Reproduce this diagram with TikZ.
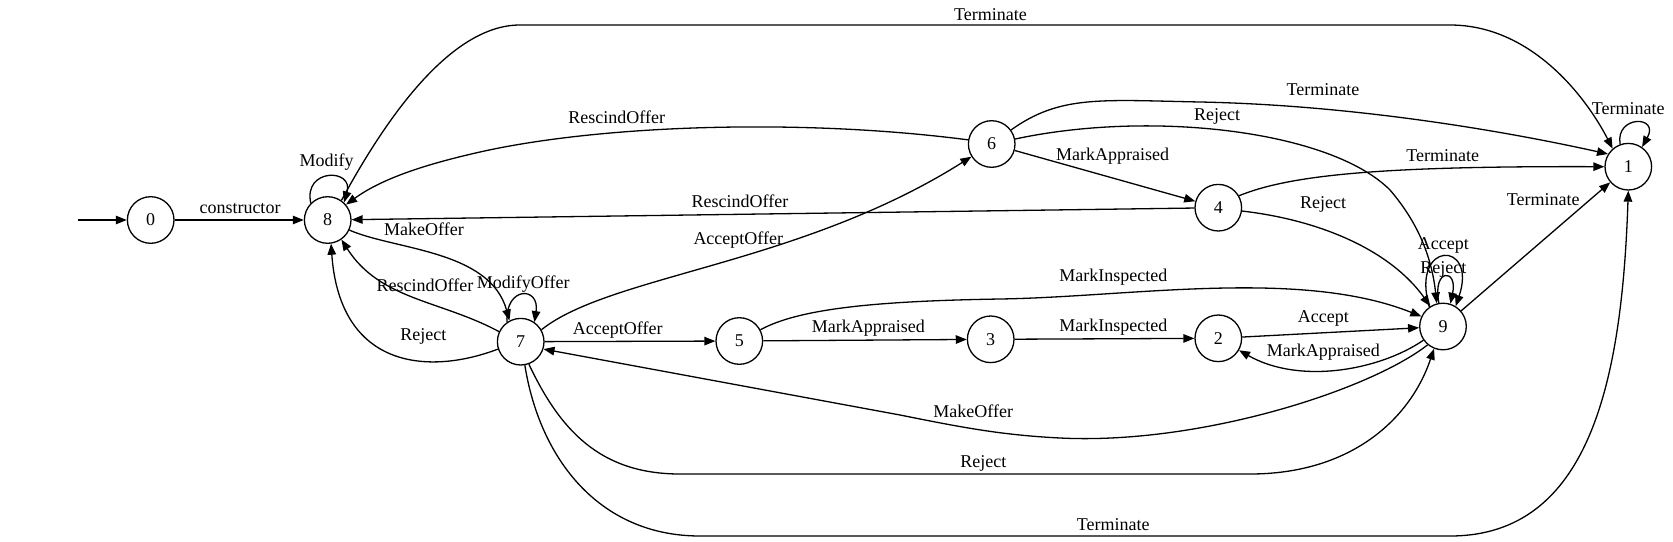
\documentclass[tikz,border=0pt]{standalone}
\usepackage{fontspec}
\setmainfont{Liberation Serif}
\usetikzlibrary{arrows.meta}
\begin{document}
\begin{tikzpicture}[x=1pt,y=-1pt,
  state/.style={circle,draw,line width=1.3pt,minimum size=46.6pt,inner sep=0pt,font=\fontsize{18}{20}\selectfont},
  edge/.style={line width=1.3pt,-{Triangle[length=11pt,width=8.5pt]}},
  lbl/.style={font=\fontsize{18}{20}\selectfont,inner sep=0pt}]
\useasboundingbox (0,0) rectangle (1673,541);
% states
\node[state] (n0) at (150.7,220) {0};
\node[state] (n8) at (327.7,220) {8};
\node[state] (n7) at (520.7,341.7) {7};
\node[state] (n5) at (739.3,341) {5};
\node[state] (n3) at (990.7,339.3) {3};
\node[state] (n2) at (1218.3,338.3) {2};
\node[state] (n9) at (1443,326.5) {9};
\node[state] (n6) at (991.7,144) {6};
\node[state] (n4) at (1218.3,207.7) {4};
\node[state] (n1) at (1628.3,166.7) {1};
\coordinate (start) at (78,220);
% edges
\draw[edge] (start) -- (n0);
\draw[edge] (n0) -- (n8);
\draw[edge] (n8.135) .. controls (303,168) and (354,168) .. (n8.47);
\draw[edge] (n8.-25) .. controls (395,250) and (490,250) .. (n7.118);
\draw[edge] (n7.125) .. controls (505,286) and (540,286) .. (n7.55);
\draw[edge] (n7.155) .. controls (440,300) and (380,300) .. (n8.-55);
\draw[edge] (n7.198) .. controls (430,375) and (340,370) .. (n8.-82);
\draw[edge] (n7) -- (n5);
\draw[edge] (n7.30) .. controls (610,275) and (800,265) .. (n6.212);
\draw[edge] (n7.-70) .. controls (560,430) and (600,474) .. (680,474) -- (1250,474) .. controls (1350,474) and (1410,420) .. (n9.-112);
\draw[edge] (n7.-80) .. controls (540,460) and (600,536) .. (700,536) -- (1450,536) .. controls (1590,536) and (1622,380) .. (n1.-90);
\draw[edge] (n9.230) .. controls (1370,390) and (1200,445) .. (1060,438) .. controls (1000,435) and (960,427) .. (900,415) -- (n7.-18);
\draw[edge] (n6.170) .. controls (800,118) and (600,125) .. (480,152) .. controls (420,165.5) and (380,180) .. (n8.40);
\draw[edge] (n6.36) .. controls (1060,95) and (1100,100) .. (1200,102) .. controls (1350,105) and (1500,130) .. (n1.148);
\draw[edge] (n6.12) .. controls (1150,110) and (1330,130) .. (1390,190) .. controls (1420,225) and (1432,260) .. (n9.105);
\draw[edge] (n6) -- (n4);
\draw[edge] (n4) -- (n8);
\draw[edge] (n4.30) .. controls (1290,175) and (1380,166) .. (n1.180);
\draw[edge] (n4.-8) .. controls (1320,220) and (1390,250) .. (n9.122);
\draw[edge] (n5) -- (n3);
\draw[edge] (n5.28) .. controls (800,308) and (880,301) .. (1000,299) .. controls (1130,297) and (1300,268) .. (n9.155);
\draw[edge] (n3) -- (n2);
\draw[edge] (n2) -- (n9);
\draw[edge] (n9.215) .. controls (1380,370) and (1300,385) .. (n2.-30);
\draw[edge] (n9.125) .. controls (1410,240) and (1478,240) .. (n9.58);
\draw[edge] (n9.100) .. controls (1432,268) and (1458,268) .. (n9.72);
\draw[edge] (n9) -- (n1);
\draw[edge] (n1.110) .. controls (1615,115) and (1660,115) .. (n1.55);
\draw[edge] (n8.55) .. controls (385,120) and (450,25) .. (520,25) -- (1450,25) .. controls (1530,25) and (1585,95) .. (n1.131);
% labels
\node[lbl] (l1) at (240,209) {constructor};
\node[lbl] (l2) at (326.7,161.7) {Modify};
\node[lbl] (l3) at (424,229.3) {MakeOffer};
\node[lbl] (l4) at (523.3,284.5) {ModifyOffer};
\node[lbl] (l5) at (425,285) {RescindOffer};
\node[lbl] (l6) at (423.3,336.7) {Reject};
\node[lbl] (l7) at (617.7,330) {AcceptOffer};
\node[lbl] (l8) at (738.3,240) {AcceptOffer};
\node[lbl] (l9) at (983.3,463.3) {Reject};
\node[lbl] (l10) at (1113.3,525) {Terminate};
\node[lbl] (l11) at (973.3,411.7) {MakeOffer};
\node[lbl] (l12) at (616.7,117.3) {RescindOffer};
\node[lbl] (l13) at (1323,89.3) {Terminate};
\node[lbl] (l14) at (1217,116.7) {Reject};
\node[lbl] (l15) at (1112.7,155.7) {MarkAppraised};
\node[lbl] (l16) at (740,201.7) {RescindOffer};
\node[lbl] (l17) at (1442.7,155.7) {Terminate};
\node[lbl] (l18) at (1323,204) {Reject};
\node[lbl] (l19) at (868.3,328.3) {MarkAppraised};
\node[lbl] (l20) at (1113.3,276.7) {MarkInspected};
\node[lbl] (l21) at (1113.3,327.3) {MarkInspected};
\node[lbl] (l22) at (1323.3,318.3) {Accept};
\node[lbl] (l23) at (1323.3,351.7) {MarkAppraised};
\node[lbl] (l24) at (1443.3,245) {Accept};
\node[lbl] (l25) at (1443.3,269.3) {Reject};
\node[lbl] (l26) at (1543.3,199.3) {Terminate};
\node[lbl] (l27) at (1628.3,108.3) {Terminate};
\node[lbl] (l28) at (990.4,15) {Terminate};
\end{tikzpicture}
\end{document}
